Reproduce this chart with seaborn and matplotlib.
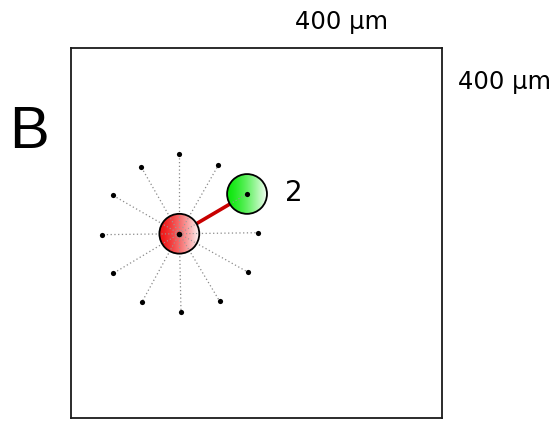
import numpy as np
import pandas as pd
import matplotlib
matplotlib.use('Agg')
import matplotlib.pyplot as plt
import seaborn as sns
from matplotlib.patches import Circle
from matplotlib.colors import LinearSegmentedColormap

sns.set_style('white')
plt.rcParams['font.family'] = ['Liberation Sans', 'DejaVu Sans']

# field size in um
field_w = 400
field_h = 400

# centre cell (red) and neighbour cell (green), um
red_xy = (116.8, 199.2)
green_xy = (189.8, 242.2)
cell_r = 21.5

# sampling points around the red cell (the 12th one is the green cell)
pts_x = [116.8, 158.8, 75.5, 45.0, 33.7, 201.6, 45.6, 190.5, 76.5, 160.3, 118.6, 189.8]
pts_y = [285.4, 273.2, 271.7, 240.8, 198.2, 200.3, 156.4, 157.8, 125.4, 126.2, 114.9, 242.2]

pts = pd.DataFrame({'x': pts_x, 'y': pts_y})

fig = plt.figure(figsize=(5.56, 4.22), dpi=100)
ax = fig.add_axes([71 / 556, 4 / 422, 371 / 556, 370 / 422])

# dotted rays from centre cell
for x, y in zip(pts_x, pts_y):
    ax.plot([red_xy[0], x], [red_xy[1], y], color='#8a8a8a', lw=0.9,
            linestyle=(0, (1, 2)), zorder=1)

# link between the two cells
ax.plot([red_xy[0], green_xy[0]], [red_xy[1], green_xy[1]],
        color='#c80000', lw=2.6, solid_capstyle='butt', zorder=2)


def gradient_cell(center, base):
    cmap = LinearSegmentedColormap.from_list('g', [base, '#ffffff'])
    grad = np.linspace(0, 1, 256) ** 1.4
    grad = np.tile(grad, (16, 1))
    cx, cy = center
    im = ax.imshow(grad, cmap=cmap, vmin=0, vmax=1.05, aspect='auto',
                   extent=[cx - cell_r, cx + cell_r, cy - cell_r, cy + cell_r],
                   zorder=3, interpolation='bilinear')
    clip = Circle(center, cell_r, transform=ax.transData)
    im.set_clip_path(clip)
    ax.add_patch(Circle(center, cell_r, facecolor='none', edgecolor='black',
                        lw=1.3, zorder=5))


gradient_cell(red_xy, '#f01414')
gradient_cell(green_xy, '#0ce80c')

# dotted rays visible over the cells
for x, y in zip(pts_x, pts_y):
    dx, dy = x - red_xy[0], y - red_xy[1]
    d = np.hypot(dx, dy)
    ax.plot([red_xy[0], red_xy[0] + dx / d * cell_r],
            [red_xy[1], red_xy[1] + dy / d * cell_r],
            color='#999999', lw=0.8, linestyle=(0, (1, 2)), zorder=4)
dx, dy = green_xy[0] - red_xy[0], green_xy[1] - red_xy[1]
d = np.hypot(dx, dy)
ax.plot([green_xy[0] - dx / d * cell_r, green_xy[0]],
        [green_xy[1] - dy / d * cell_r, green_xy[1]],
        color='#999999', lw=0.8, linestyle=(0, (1, 2)), zorder=4)

sns.scatterplot(data=pts, x='x', y='y', color='black', s=14, linewidth=0,
                ax=ax, zorder=6)
ax.scatter([red_xy[0]], [red_xy[1]], color='black', s=16, zorder=6, linewidth=0)

ax.set_xlim(0, field_w)
ax.set_ylim(0, field_h)
ax.set_xticks([])
ax.set_yticks([])
ax.set_xlabel('')
ax.set_ylabel('')
for s in ax.spines.values():
    s.set_visible(True)
    s.set_color('#1a1a1a')
    s.set_linewidth(1.3)

lab_font = ['DejaVu Sans']
fig.text(341.5 / 556, 1 - 22.5 / 422, '400 \u03bcm', ha='center', va='center',
         fontsize=17.5, color='black', family=lab_font)
fig.text(504 / 556, 1 - 82 / 422, '400 \u03bcm', ha='center', va='center',
         fontsize=17.5, color='black', family=lab_font)
fig.text(29 / 556, 1 - 133 / 422, 'B', ha='center', va='center', fontsize=43,
         color='black')
fig.text(293.5 / 556, 1 - 192.5 / 422, '2', ha='center', va='center',
         fontsize=20, color='black', family=lab_font)

fig.savefig('out.png', dpi=100)
